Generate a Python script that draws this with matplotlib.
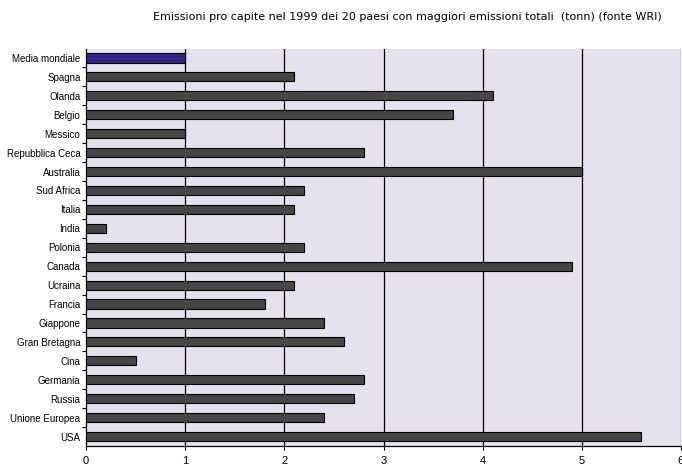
import matplotlib
matplotlib.use("Agg")
import matplotlib.pyplot as plt

# Per-capita emissions in 1999 (tonnes), top-20 emitting countries plus world average
paesi = ["Media mondiale", "Spagna", "Olanda", "Belgio", "Messico", "Repubblica Ceca",
         "Australia", "Sud Africa", "Italia", "India", "Polonia", "Canada", "Ucraina",
         "Francia", "Giappone", "Gran Bretagna", "Cina", "Germania", "Russia",
         "Unione Europea", "USA"]
emissioni = [1.0, 2.1, 4.1, 3.7, 1.0, 2.8, 5.0, 2.2, 2.1, 0.2, 2.2, 4.9, 2.1,
             1.8, 2.4, 2.6, 0.5, 2.8, 2.7, 2.4, 5.6]
x_ticks = [0, 1, 2, 3, 4, 5, 6]
titolo = "Emissioni pro capite nel 1999 dei 20 paesi con maggiori emissioni totali  (tonn) (fonte WRI)"

plt.rcParams["font.family"] = ["Liberation Sans", "DejaVu Sans"]

W, H = 682, 466
fig = plt.figure(figsize=(W / 100, H / 100), dpi=100)
left, right, top, bottom = 86, 681, 48.5, 446
ax = fig.add_axes([left / W, 1 - bottom / H, (right - left) / W, (bottom - top) / H])
ax.set_facecolor("#e6e1ee")

colori = ["#34248a"] + ["#464646"] * (len(paesi) - 1)
pos = list(range(len(paesi)))
ax.barh(pos, emissioni, height=0.48, color=colori, edgecolor="black", linewidth=0.8, zorder=3)

ax.set_xlim(0, 6)
ax.set_ylim(len(paesi) - 0.5, -0.5)
ax.set_xticks(x_ticks)
ax.set_xticklabels([str(t) for t in x_ticks], fontsize=8)
ax.set_yticks(pos)
ax.set_yticklabels(paesi, fontsize=7)
ax.set_yticks([p + 0.5 for p in pos[:-1]], minor=True)
ax.tick_params(axis="y", which="major", length=0, pad=4)
ax.tick_params(axis="y", which="minor", length=3, width=0.8, direction="out")
ax.tick_params(axis="x", length=3, width=0.8, direction="out", pad=4)

for v in x_ticks[1:-1]:
    ax.axvline(v, color="black", linewidth=0.9, zorder=1)
ax.axvline(6, color="#808080", linewidth=1.0, zorder=1)

for s in ["top", "right"]:
    ax.spines[s].set_visible(False)
ax.spines["left"].set_linewidth(0.9)
ax.spines["bottom"].set_linewidth(0.9)

fig.text(407 / W, 1 - 17 / H, titolo, ha="center", va="center", fontsize=8,
         family=["DejaVu Sans"])

fig.savefig("out.png", dpi=100)
